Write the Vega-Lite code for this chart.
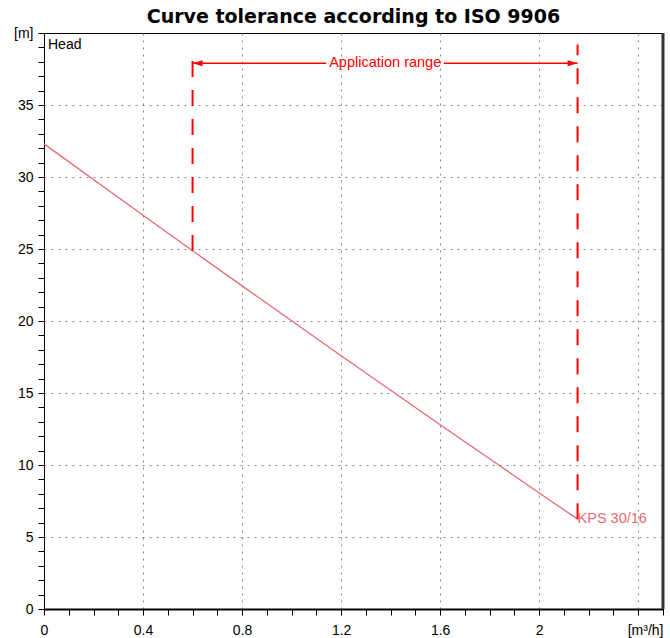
{
  "$schema": "https://vega.github.io/schema/vega-lite/v6.json",
  "width": 619,
  "height": 576,
  "autosize": {"type": "none"},
  "padding": {"left": 44, "top": 33, "right": 7, "bottom": 29},
  "background": "white",
  "title": {"text": "Curve tolerance according to ISO 9906", "font": "DejaVu Sans", "fontSize": 19, "fontWeight": "bold", "color": "black", "anchor": "middle", "offset": -1},
  "config": {
    "view": {"stroke": "black", "strokeWidth": 1},
    "axis": {"labelFont": "Liberation Sans", "labelFontSize": 14, "labelColor": "black", "tickColor": "black", "domainColor": "black", "gridColor": "#888888", "gridDash": [2, 5], "tickSize": 6, "labelOverlap": false, "labelBound": false, "labelFlush": false},
    "text": {"font": "Liberation Sans"}
  },
  "datasets": {
    "curve": [
      {"q": 0, "h": 32.3},
      {"q": 0.4, "h": 27.34},
      {"q": 0.6, "h": 24.88},
      {"q": 0.8, "h": 22.44},
      {"q": 1.2, "h": 17.59},
      {"q": 1.6, "h": 12.8},
      {"q": 2.0, "h": 8.06},
      {"q": 2.155, "h": 6.24}
    ],
    "limits": [
      {"q": 0.6, "h": 38.05, "h2": 24.88},
      {"q": 2.155, "h": 6.24, "h2": 39.2}
    ],
    "span": [
      {"q": 0.6, "q2": 1.14, "h": 37.9},
      {"q": 1.615, "q2": 2.155, "h": 37.9}
    ],
    "heads": [
      {"q": 0.6, "h": 37.9, "side": "left"},
      {"q": 2.155, "h": 37.9, "side": "right"}
    ],
    "rangeLabel": [{"q": 1.378, "h": 37.9, "label": "Application range"}],
    "curveLabel": [{"q": 2.155, "h": 6.24, "label": "KPS 30/16"}],
    "headLabel": [{"q": 0, "h": 40, "label": "Head"}],
    "edge": [{"q": 2.5, "h": 0, "h2": 40}]
  },
  "encoding": {
    "x": {
      "field": "q", "type": "quantitative",
      "scale": {"domain": [0, 2.5], "nice": false, "zero": false},
      "axis": {
        "title": null,
        "values": [0, 0.1, 0.2, 0.3, 0.4, 0.5, 0.6, 0.7, 0.8, 0.9, 1, 1.1, 1.2, 1.3, 1.4, 1.5, 1.6, 1.7, 1.8, 1.9, 2, 2.1, 2.2, 2.3, 2.4, 2.5],
        "format": "~g",
        "labelPadding": 8,
        "labelExpr": "datum.value == 2.5 ? '[m³/h]' : (round(datum.value * 10) % 4 == 0 && datum.value < 2.3 ? datum.label : '')",
        "labelAlign": {"condition": {"test": "datum.value == 2.5", "value": "right"}, "value": "center"},
        "gridOpacity": {"condition": {"test": "round(datum.value * 10) % 4 == 0 && datum.value > 0 && datum.value < 2.5", "value": 1}, "value": 0},
        "domainWidth": 2
      }
    },
    "y": {
      "field": "h", "type": "quantitative",
      "scale": {"domain": [0, 40], "nice": false, "zero": false},
      "axis": {
        "title": null,
        "values": [0, 1, 2, 3, 4, 5, 6, 7, 8, 9, 10, 11, 12, 13, 14, 15, 16, 17, 18, 19, 20, 21, 22, 23, 24, 25, 26, 27, 28, 29, 30, 31, 32, 33, 34, 35, 36, 37, 38, 39, 40],
        "labelPadding": 5,
        "labelExpr": "datum.value == 40 ? '[m]' : (datum.value % 5 == 0 ? datum.label : '')",
        "gridOpacity": {"condition": {"test": "datum.value % 5 == 0 && datum.value > 0 && datum.value < 40", "value": 1}, "value": 0}
      }
    }
  },
  "layer": [
    {
      "data": {"name": "curve"},
      "mark": {"type": "line", "color": "#e36b74", "strokeWidth": 1.3}
    },
    {
      "data": {"name": "limits"},
      "mark": {"type": "rule", "color": "#ff0000", "strokeWidth": 2, "strokeDash": [16, 13]},
      "encoding": {
        "y2": {"field": "h2"}
      }
    },
    {
      "data": {"name": "span"},
      "mark": {"type": "rule", "color": "#ff0000", "strokeWidth": 1.5},
      "encoding": {
        "x2": {"field": "q2"}
      }
    },
    {
      "data": {"name": "heads"},
      "mark": {"type": "point", "filled": true, "color": "#ff0000", "opacity": 1, "size": 100, "strokeWidth": 0},
      "encoding": {
        "shape": {"field": "side", "type": "nominal", "legend": null, "scale": {"domain": ["left", "right"], "range": ["M0,0L2,-0.6L2,0.6Z", "M0,0L-2,-0.6L-2,0.6Z"]}}
      }
    },
    {
      "data": {"name": "rangeLabel"},
      "mark": {"type": "text", "color": "#ff0000", "fontSize": 14.5, "align": "center", "baseline": "middle"},
      "encoding": {
        "text": {"field": "label"}
      }
    },
    {
      "data": {"name": "curveLabel"},
      "mark": {"type": "text", "color": "#e36b74", "fontSize": 14.5, "align": "left", "baseline": "middle", "dx": 0},
      "encoding": {
        "text": {"field": "label"}
      }
    },
    {
      "data": {"name": "headLabel"},
      "mark": {"type": "text", "color": "black", "fontSize": 14, "align": "left", "baseline": "top", "dx": 4, "dy": 5},
      "encoding": {
        "text": {"field": "label"}
      }
    },
    {
      "data": {"name": "edge"},
      "mark": {"type": "rule", "color": "#333333", "strokeWidth": 3},
      "encoding": {
        "y2": {"field": "h2"}
      }
    }
  ]
}
